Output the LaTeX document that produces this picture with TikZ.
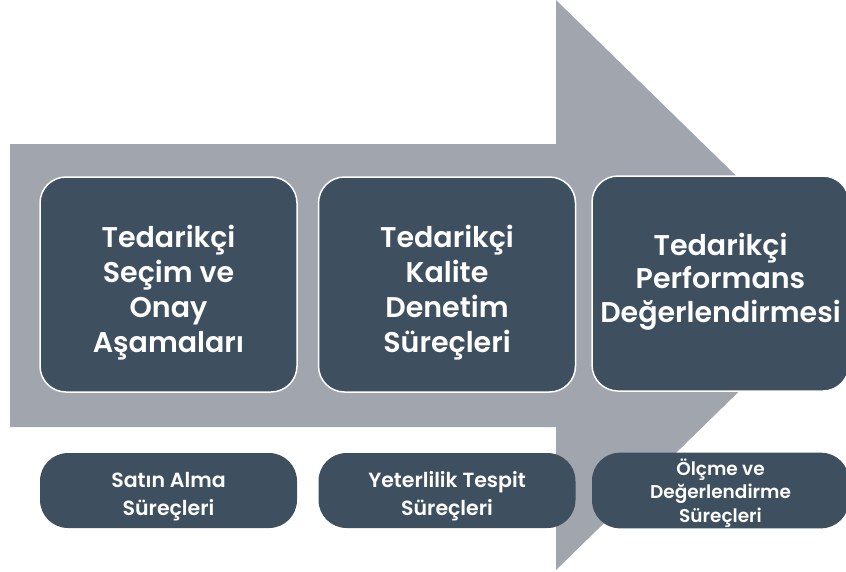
\documentclass[tikz,border=0pt]{standalone}
\usepackage{fontspec}
\setmainfont{Poppins}[BoldFont={Poppins SemiBold}]
\usepackage{tikz}

\definecolor{slate}{HTML}{3E5060}
\definecolor{arrowgrey}{HTML}{A1A5AE}

\begin{document}
\begin{tikzpicture}[x=1pt,y=-1pt,
    stage/.style={fill=slate,draw=white,line width=1.5pt,rounded corners=26pt,
      minimum width=257pt,minimum height=215pt,align=center,text=white,
      text height=140pt,text depth=5pt,font=\fontsize{28.5}{34.7}\selectfont\bfseries},
    process/.style={fill=slate,rounded corners=28pt,minimum width=257pt,
      minimum height=75pt,align=center,text=white,text height=52pt,text depth=3pt,
      font=\fontsize{20.5}{28}\selectfont\bfseries}]
  \useasboundingbox (0,0) rectangle (846,571);
  \fill[arrowgrey] (10,144) -- (556,144) -- (556,0) -- (848,285)
    -- (556,570) -- (556,427) -- (10,427) -- cycle;
  \node[stage] (stage1) at (168.5,284.5) {Tedarikçi\\Seçim ve\\Onay\\Aşamaları};
  \node[stage] (stage2) at (447,284.5) {Tedarikçi\\Kalite\\Denetim\\Süreçleri};
  \node[stage,text height=88pt,text depth=11pt,font=\fontsize{28.5}{33.5}\selectfont\bfseries]
    (stage3) at (720.5,283.5) {Tedarikçi\\Performans\\Değerlendirmesi};
  \node[process] (proc1) at (168.5,490.5) {Satın Alma\\Süreçleri};
  \node[process] (proc2) at (447,490.5) {Yeterlilik Tespit\\Süreçleri};
  \node[process,text height=66pt,
    font=\fontsize{18.5}{23.5}\selectfont\bfseries] (proc3) at (720.5,490.5)
    {Ölçme ve\\Değerlendirme\\Süreçleri};
\end{tikzpicture}
\end{document}
